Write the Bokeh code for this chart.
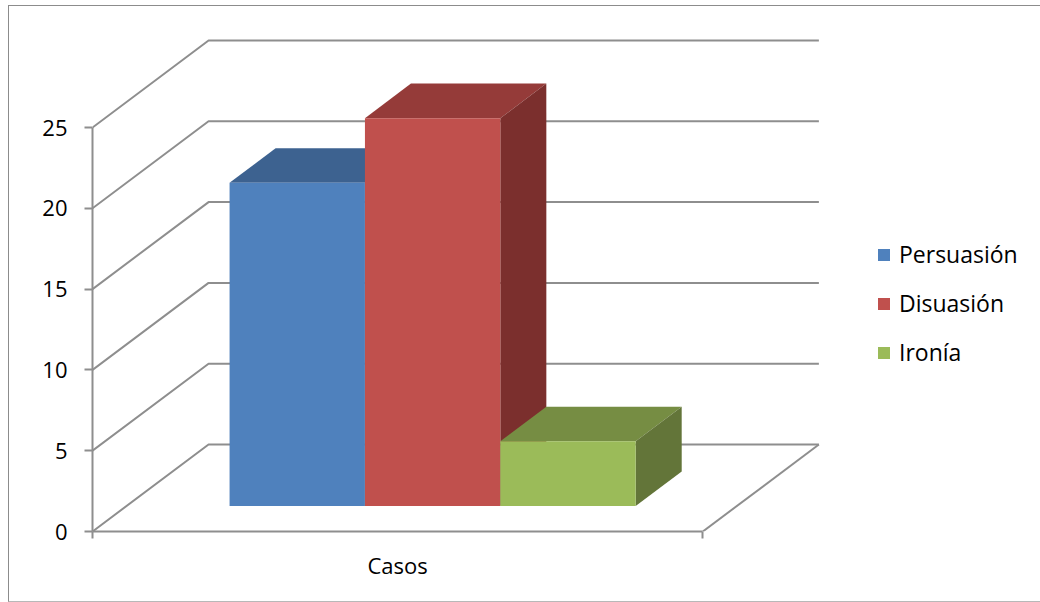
from bokeh.plotting import figure
from bokeh.models import Range1d, LinearAxis, FixedTicker, Legend, LegendItem
from bokeh.embed import file_html
from bokeh.resources import INLINE

# data
series = ["Persuasión", "Disuasión", "Ironía"]
values = [20, 24, 4]
category = "Casos"
y_ticks = [0, 5, 10, 15, 20, 25]
front_colors = ["#4F81BD", "#C0504D", "#9BBB59"]
top_colors = ["#3D6290", "#953B39", "#768D43"]
side_colors = ["#30507A", "#7B2F2D", "#637539"]

# projection of the 3D box, in axis units (1 x unit = category width, 1 y unit = one value)
PX_X, PX_Y = 610.0, 16.16
depth_x, depth_y = 116 / PX_X, 87 / PX_Y
bar_x0, bar_w = 137 / PX_X, 135.3 / PX_X
bar_base = 25.5 / PX_Y
bar_dx, bar_dy = 46 / PX_X, 34.6 / PX_Y

W, H = 1032, 597
LEFT, TOP, BOTTOM = 83.5, 7, 72
x_end = (W - LEFT) / PX_X
y_end = (H - TOP - BOTTOM) / PX_Y

GRID = "#8E8E8E"
FONT = "Open Sans"
FS = "22px"

p = figure(width=W, height=H, output_backend="svg", toolbar_location=None,
           x_range=Range1d(0, x_end), y_range=Range1d(0, y_end),
           x_axis_type=None, y_axis_type=None,
           min_border_left=int(LEFT), min_border_right=0, min_border_top=TOP, min_border_bottom=BOTTOM,
           outline_line_color=None, margin=(5, 0, 0, 8),
           styles={"border-left": "1.5px solid #8C8C8C", "border-top": "1.5px solid #8C8C8C",
                   "border-bottom": "1.5px solid #B8B8B8", "box-sizing": "border-box"})
p.grid.visible = False

# walls and floor grid
for v in y_ticks:
    p.line([0, depth_x, 1 + depth_x], [v, v + depth_y, v + depth_y], line_color=GRID, line_width=2)
p.line([1 + depth_x, 1], [depth_y, 0], line_color=GRID, line_width=2)

# bars
fronts = []
for i, val in enumerate(values):
    x0 = bar_x0 + i * bar_w
    x1 = x0 + bar_w
    top = bar_base + val
    p.patch([x0, x1, x1 + bar_dx, x0 + bar_dx], [top, top, top + bar_dy, top + bar_dy],
            fill_color=top_colors[i], line_color=None)
    p.patch([x1, x1 + bar_dx, x1 + bar_dx, x1],
            [bar_base, bar_base + bar_dy, top + bar_dy, top],
            fill_color=side_colors[i], line_color=None)
    fronts.append(p.quad(left=x0, right=x1, bottom=bar_base, top=top,
                         fill_color=front_colors[i], line_color=None))

# axes
ya = LinearAxis(ticker=FixedTicker(ticks=y_ticks), bounds=(0, 25))
ya.axis_line_color = GRID
ya.axis_line_width = 2
ya.major_tick_line_color = GRID
ya.major_tick_line_width = 2
ya.major_tick_out = 8
ya.major_tick_in = 0
ya.minor_tick_out = 0
ya.minor_tick_in = 0
ya.major_label_standoff = 17
ya.major_label_text_font = FONT
ya.major_label_text_font_size = FS
ya.major_label_text_color = "#000000"
p.add_layout(ya, "left")

xa = LinearAxis(ticker=FixedTicker(ticks=[0.5], minor_ticks=[0, 1]), bounds=(0, 1))
xa.axis_line_color = GRID
xa.axis_line_width = 2
xa.major_tick_out = 0
xa.major_tick_in = 0
xa.minor_tick_out = 7
xa.minor_tick_in = 0
xa.minor_tick_line_color = GRID
xa.minor_tick_line_width = 2
xa.major_label_overrides = {0.5: category}
xa.major_label_standoff = 11
xa.major_label_text_font = FONT
xa.major_label_text_font_size = FS
xa.major_label_text_color = "#000000"
p.add_layout(xa, "below")

legend = Legend(items=[LegendItem(label=s, renderers=[r]) for s, r in zip(series, fronts)],
                location=(784, 163), orientation="vertical",
                glyph_width=15, glyph_height=15, label_standoff=8, spacing=17,
                margin=0, padding=0, border_line_color=None, background_fill_alpha=0,
                label_text_font=FONT, label_text_font_size="23px", label_text_color="#000000")
p.add_layout(legend, "center")

open("out.html", "w").write(file_html(p, INLINE))
